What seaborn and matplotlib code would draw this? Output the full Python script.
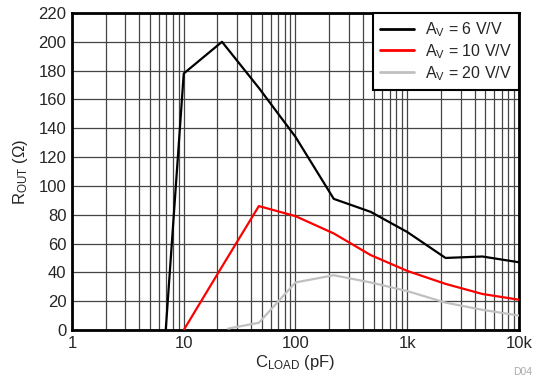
import numpy as np
import pandas as pd
import matplotlib
matplotlib.use("Agg")
import matplotlib.pyplot as plt
import seaborn as sns
from matplotlib.ticker import FixedLocator, LogLocator, NullFormatter

# ---------------- data ---------------- #
c_av6 = [6.9, 10, 22, 47, 100, 220, 470, 1000, 2200, 4700, 10000]
r_av6 = [0, 178, 200, 168, 134, 91, 82, 68, 50, 51, 47]

c_av10 = [10, 22, 47, 100, 220, 470, 1000, 2200, 4700, 10000]
r_av10 = [0, 44, 86, 79, 67, 52, 41, 32, 25, 21]

c_av20 = [25, 47, 100, 220, 470, 1000, 2200, 4700, 10000]
r_av20 = [1, 5, 33, 38, 33, 27, 19, 14, 10]

labels = ["A$_{\\mathrm{V}}$ = 6 V/V", "A$_{\\mathrm{V}}$ = 10 V/V", "A$_{\\mathrm{V}}$ = 20 V/V"]
colors = ["black", "#ff0000", "#c0c0c0"]

x_ticks = [1, 10, 100, 1000, 10000]
x_tick_labels = ["1", "10", "100", "1k", "10k"]
y_ticks = list(range(0, 221, 20))

frames = []
for lab, cx, ry in zip(labels, [c_av6, c_av10, c_av20], [r_av6, r_av10, r_av20]):
    frames.append(pd.DataFrame({"c": cx, "r": ry, "series": lab}))
df = pd.concat(frames, ignore_index=True)

# ---------------- plot ---------------- #
sns.set_style("white")
plt.rcParams["font.family"] = ["Liberation Sans", "DejaVu Sans"]
plt.rcParams["mathtext.fontset"] = "custom"
plt.rcParams["mathtext.rm"] = "Liberation Sans"
plt.rcParams["mathtext.it"] = "Liberation Sans:italic"
plt.rcParams["mathtext.bf"] = "Liberation Sans:bold"

fig = plt.figure(figsize=(5.38, 3.83), dpi=100)
ax = fig.add_axes([0.1338, 0.1384, 0.8309, 0.8277])

sns.lineplot(data=df, x="c", y="r", hue="series", palette=dict(zip(labels, colors)),
             hue_order=labels, estimator=None, sort=False, linewidth=1.6, ax=ax, zorder=3)

ax.set_xscale("log")
ax.set_xlim(1, 10000)
ax.set_ylim(0, 220)
ax.xaxis.set_major_locator(FixedLocator(x_ticks))
ax.set_xticklabels(x_tick_labels)
ax.xaxis.set_minor_locator(LogLocator(base=10, subs=np.arange(2, 10)))
ax.xaxis.set_minor_formatter(NullFormatter())
ax.set_yticks(y_ticks)

ax.grid(True, which="major", color="#444444", linewidth=0.9)
ax.grid(True, which="minor", axis="x", color="#444444", linewidth=0.9)
ax.tick_params(axis="both", which="both", length=0, labelsize=12, pad=4)

for s in ax.spines.values():
    s.set_visible(True)
    s.set_color("black")
    s.set_linewidth(2)

ax.set_xlabel("C$_{\\mathrm{LOAD}}$ (pF)", fontsize=12, labelpad=2)
ax.set_ylabel("R$_{\\mathrm{OUT}}$ (\u03a9)", fontsize=12, labelpad=6)

leg = ax.legend(loc="upper right", fontsize=11.5, frameon=True, fancybox=False,
                borderaxespad=0, handlelength=2.1, borderpad=0.45, labelspacing=0.2,
                handletextpad=0.7)
leg.get_frame().set_edgecolor("black")
leg.get_frame().set_linewidth(1.5)
leg.get_frame().set_alpha(1)
for line in leg.get_lines():
    line.set_linewidth(2)

fig.text(0.99, 0.015, "D04", color="#aaaaaa", fontsize=7.5, ha="right", va="bottom")

fig.savefig("out.png", dpi=100)
